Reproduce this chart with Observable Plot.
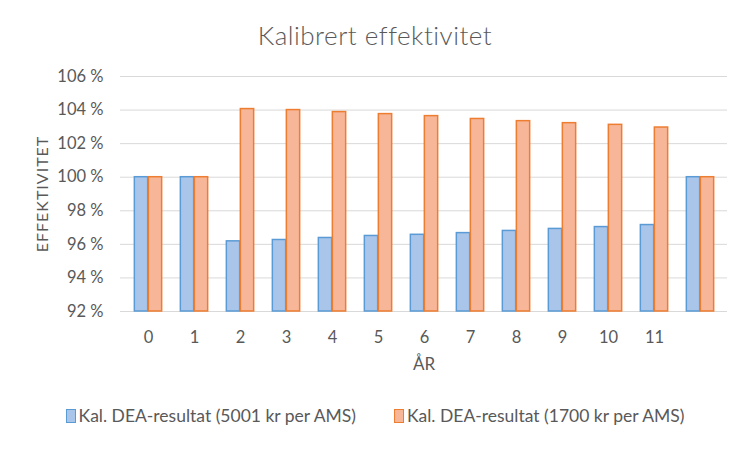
<!DOCTYPE html>
<html>
<head>
<meta charset="utf-8">
<script src="https://cdn.jsdelivr.net/npm/d3@7"></script>
<script src="https://cdn.jsdelivr.net/npm/@observablehq/plot@0.6"></script>
<style>
  body { margin: 0; background: #fff; font-family: Lato, "Open Sans", sans-serif; }
  #wrap { width: 750px; height: 450px; position: relative; }
  #title { height: 60px; line-height: 70px; text-align: center; font-size: 26px; font-weight: 300; color: #595959; letter-spacing: 0.5px; }
  #legend { position: absolute; top: 405px; left: 0; width: 750px; display: flex; justify-content: center; gap: 38px; font-size: 17.5px; color: #595959; }
  .item { display: flex; align-items: center; gap: 3px; }
  .sw { width: 8px; height: 12px; border: 1px solid; }
</style>
</head>
<body>
<div id="wrap">
  <div id="title">Kalibrert effektivitet</div>
  <div id="chart"></div>
  <div id="legend"></div>
</div>
<script>
const years = ["0","1","2","3","4","5","6","7","8","9","10","11",""];
const seriesNames = ["Kal. DEA-resultat (5001 kr per AMS)", "Kal. DEA-resultat (1700 kr per AMS)"];
const blueValues = [100, 100, 96.18, 96.26, 96.38, 96.5, 96.57, 96.67, 96.8, 96.92, 97.03, 97.15, 100];
const orangeValues = [100, 100, 104.06, 104.0, 103.88, 103.76, 103.64, 103.47, 103.34, 103.22, 103.12, 102.96, 100];
const yTicks = [92, 94, 96, 98, 100, 102, 104, 106];

const fills = ["#a9c5ea", "#f7b698"];
const strokes = ["#5b9bd5", "#ed7d31"];

const blue = years.map((y, i) => ({year: y, value: blueValues[i]}));
const orange = years.map((y, i) => ({year: y, value: orangeValues[i]}));

const bw = 607 / 13;
const gap = (bw - 28) / 2;

const chart = Plot.plot({
  width: 750,
  height: 330,
  marginLeft: 120,
  marginRight: 23,
  marginTop: 16,
  marginBottom: 79,
  style: {fontFamily: "Lato, 'Open Sans', sans-serif", fontSize: "16.5px", color: "#595959", background: "transparent"},
  x: {domain: years, padding: 0},
  y: {domain: [92, 106]},
  marks: [
    Plot.gridY(yTicks.slice(1), {stroke: "#d9d9d9", strokeOpacity: 1}),
    Plot.ruleY([92], {stroke: "#d9d9d9"}),
    Plot.barY(blue, {x: "year", y1: 92, y2: "value", fill: fills[0], stroke: strokes[0], strokeWidth: 1.5,
      insetLeft: gap, insetRight: bw / 2}),
    Plot.barY(orange, {x: "year", y1: 92, y2: "value", fill: fills[1], stroke: strokes[1], strokeWidth: 1.5,
      insetLeft: bw / 2, insetRight: gap}),
    Plot.axisY({ticks: yTicks, tickFormat: d => `${d} %`, tickSize: 0, tickPadding: 17,
      label: "EFFEKTIVITET", labelAnchor: "center", labelArrow: "none", labelOffset: 84}),
    Plot.axisX({tickSize: 0, tickPadding: 20, label: "ÅR", labelAnchor: "center", labelArrow: "none", labelOffset: 58})
  ]
});
document.getElementById("chart").appendChild(chart);
chart.querySelectorAll('[aria-label="y-axis label"] text').forEach(t => {
  t.style.letterSpacing = "1px";
  t.style.fontSize = "16px";
});
chart.querySelectorAll('[aria-label="x-axis label"] text').forEach(t => {
  t.style.fontSize = "17px";
});

const legend = document.getElementById("legend");
seriesNames.forEach((n, i) => {
  const it = document.createElement("div");
  it.className = "item";
  const sw = document.createElement("span");
  sw.className = "sw";
  sw.style.background = fills[i];
  sw.style.borderColor = strokes[i];
  const t = document.createElement("span");
  t.textContent = n;
  it.appendChild(sw); it.appendChild(t);
  legend.appendChild(it);
});
</script>
</body>
</html>
